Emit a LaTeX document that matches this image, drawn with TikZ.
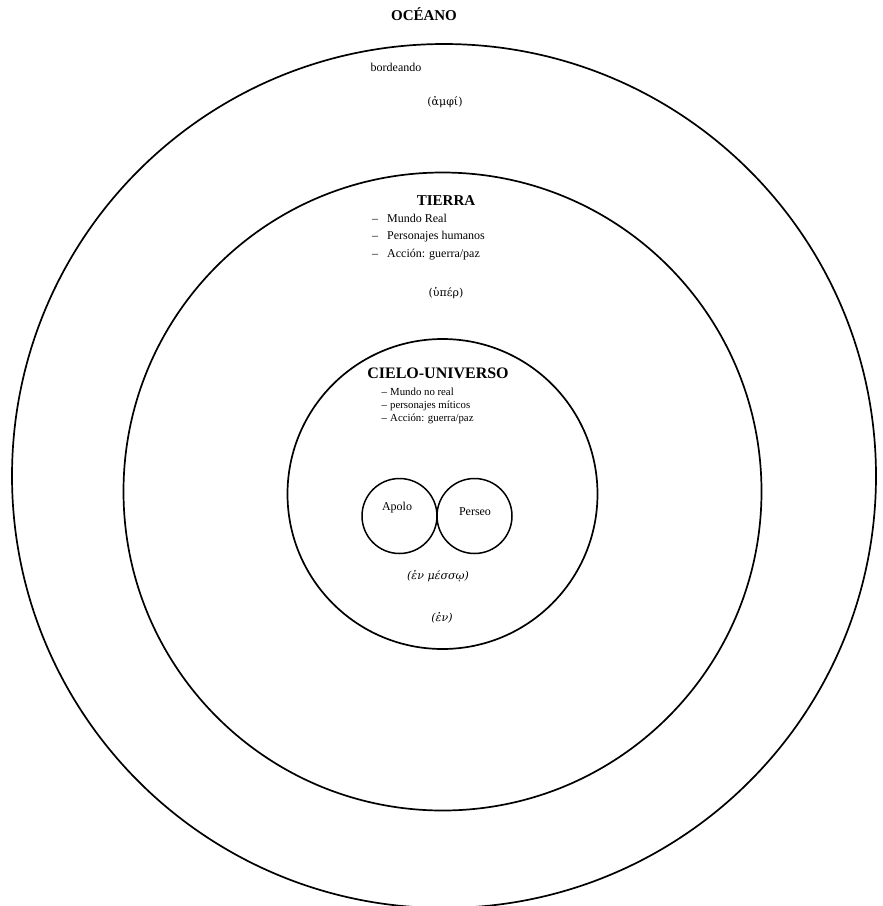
\documentclass[tikz,border=0pt]{standalone}
\usepackage{fontspec}
\setmainfont{Liberation Serif}
\newfontfamily\grk{DejaVu Serif}
\begin{document}
\begin{tikzpicture}[x=1pt,y=-1pt,
  ring/.style={draw=black,line width=1.7pt},
  small/.style={draw=black,line width=1.5pt,circle,minimum size=75pt,inner sep=0pt},
  title/.style={font=\fontsize{15}{17}\selectfont\bfseries,inner sep=0pt},
  lbl/.style={font=\fontsize{12}{14}\selectfont,inner sep=0pt},
  itemA/.style={font=\fontsize{12}{14}\selectfont,inner sep=0pt,anchor=west},
  itemB/.style={font=\fontsize{10.8}{13}\selectfont,inner sep=0pt,anchor=west},
  gk/.style={font=\fontsize{11}{13}\selectfont\grk,inner sep=0pt}]
\useasboundingbox (0,0) rectangle (883,906);
\fill[white] (0,0) rectangle (883,906);
% circles
\draw[ring] (444,476) circle[radius=432];
\draw[ring] (442.5,491.5) circle[radius=319];
\draw[ring] (442.5,494) circle[radius=155];
\node[small] (apolo) at (399.5,516) {};
\node[small] (perseo) at (474.5,516) {};
% texts
\node[title] (oceano) at (424,14) {OCÉANO};
\node[lbl] (bord) at (396,67) {bordeando};
\node[gk] (amfi) at (445,102) {(ἀμφί)};
\node[title] (tierra) at (446,201) {TIERRA};
\node[itemA] (t1) at (372,218) {\makebox[15pt][l]{–}Mundo Real};
\node[itemA] (t2) at (372,236.5) {\makebox[15pt][l]{–}Personajes humanos};
\node[itemA] (t3) at (372,255) {\makebox[15pt][l]{–}Acción: guerra/paz};
\node[gk] (hyper) at (446,293) {(ὑπέρ)};
\node[title,font=\fontsize{16}{18}\selectfont\bfseries] (cielo) at (438,373) {CIELO-UNIVERSO};
\node[itemB] (c1) at (381.5,392) {\makebox[8.5pt][l]{–}Mundo no real};
\node[itemB] (c2) at (381.5,405.5) {\makebox[8.5pt][l]{–}personajes míticos};
\node[itemB] (c3) at (381.5,419) {\makebox[8.5pt][l]{–}Acción: guerra/paz};
\node[lbl] (ta) at (397,508) {Apolo};
\node[lbl] (tp) at (475,512) {Perseo};
\node[gk,font=\fontsize{11}{13}\selectfont\grk\itshape] (mes) at (438,576) {(ἐν μέσσῳ)};
\node[gk,font=\fontsize{11}{13}\selectfont\grk\itshape] (en) at (442,618) {(ἐν)};
\end{tikzpicture}
\end{document}
